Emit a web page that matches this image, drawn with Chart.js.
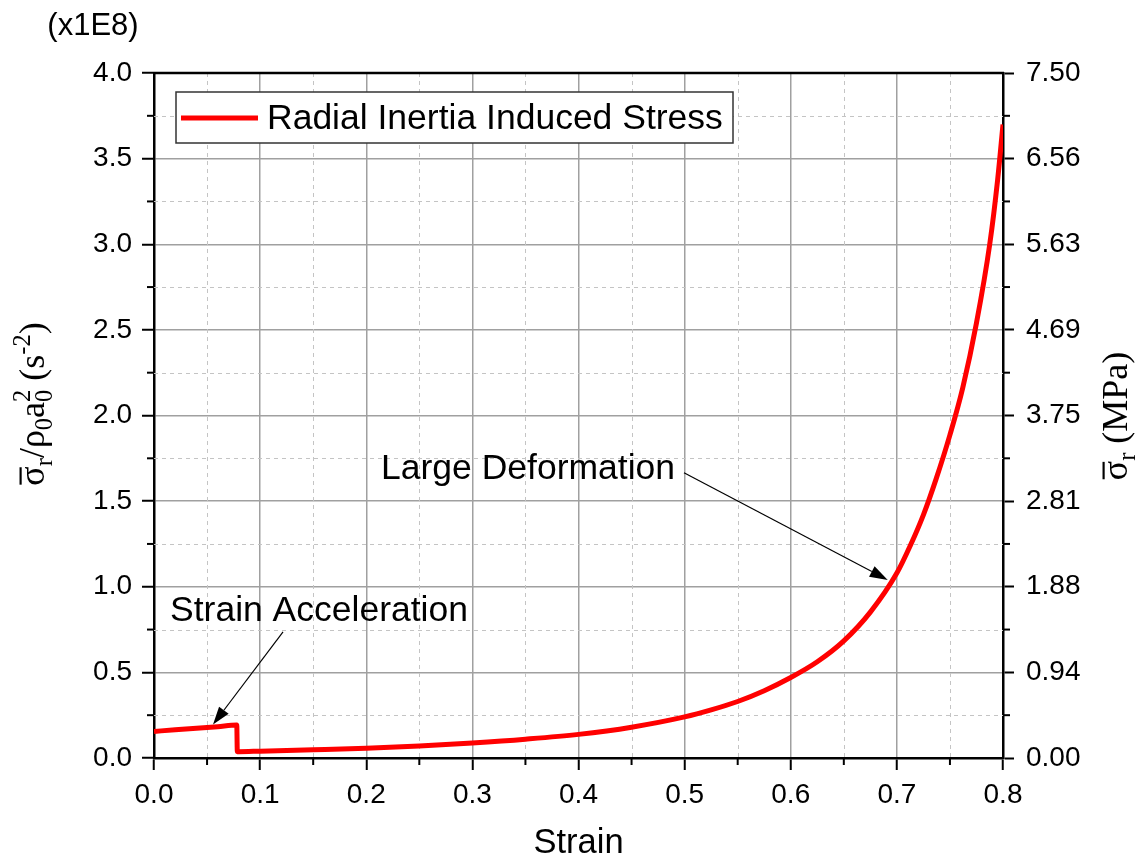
<!DOCTYPE html>
<html>
<head>
<meta charset="utf-8">
<script src="https://cdn.jsdelivr.net/npm/chart.js@4.4.1/dist/chart.umd.min.js"></script>
<style>
  body { margin: 0; background: #fff; }
  #wrap { width: 1141px; height: 867px; }
</style>
</head>
<body>
<div id="wrap"><canvas id="myChart" width="1141" height="867"></canvas></div>
<script>
// strain values (x) and radial inertia stress in units of 1E8 s^-2 (y)
const strain = [0, 0.02, 0.04, 0.06, 0.078, 0.0785, 0.08, 0.1, 0.15, 0.2, 0.25, 0.3, 0.35, 0.4, 0.45,
  0.5, 0.525, 0.55, 0.575, 0.6, 0.625, 0.65, 0.675, 0.7, 0.713, 0.725, 0.737, 0.75, 0.762, 0.775, 0.7875, 0.795, 0.8];
const stress = [0.155, 0.165, 0.174, 0.183, 0.192, 0.037, 0.037, 0.040, 0.048, 0.057, 0.070, 0.088, 0.110, 0.138, 0.180,
  0.240, 0.281, 0.330, 0.393, 0.470, 0.562, 0.684, 0.852, 1.08, 1.245, 1.42, 1.63, 1.887, 2.16, 2.54, 3.0, 3.38, 3.70];

const xTickLabels = ['0.0', '0.1', '0.2', '0.3', '0.4', '0.5', '0.6', '0.7', '0.8'];
const leftTickLabels = ['0.0', '0.5', '1.0', '1.5', '2.0', '2.5', '3.0', '3.5', '4.0'];
const rightTickLabels = ['0.00', '0.94', '1.88', '2.81', '3.75', '4.69', '5.63', '6.56', '7.50'];
const seriesName = 'Radial Inertia Induced Stress';

// annotations, in data coordinates
const notes = [
  { text: 'Strain Acceleration', tx: 0.0151, ty: 0.858, fx: 0.1216, fy: 0.736, px: 0.0556, py: 0.195 },
  { text: 'Large Deformation', tx: 0.2139, ty: 1.688, fx: 0.4994, fy: 1.666, px: 0.6914, py: 1.04 }
];

const SANS = '"Liberation Sans", Arial, sans-serif';
const SERIF = '"Liberation Serif", "Times New Roman", serif';

function drawRich(ctx, segs, size) {
  // segs: {t, mode: 'n'|'sub'|'sup'|'stack', t2, bar}
  const small = size * 0.68;
  const parts = segs.map(s => {
    let w;
    if (s.mode === 'n') { ctx.font = size + 'px ' + SERIF; w = ctx.measureText(s.t).width; }
    else if (s.mode === 'stack') {
      ctx.font = small + 'px ' + SERIF;
      w = Math.max(ctx.measureText(s.t).width, ctx.measureText(s.t2).width);
    } else { ctx.font = small + 'px ' + SERIF; w = ctx.measureText(s.t).width; }
    return { s, w };
  });
  const total = parts.reduce((a, p) => a + p.w, 0);
  let x = -total / 2;
  ctx.textAlign = 'left';
  ctx.textBaseline = 'alphabetic';
  parts.forEach(({ s, w }) => {
    if (s.mode === 'n') {
      ctx.font = size + 'px ' + SERIF;
      ctx.fillText(s.t, x, 0);
      if (s.bar) {
        ctx.fillRect(x + 1, -size * 0.68, w - 2, size * 0.06);
      }
    } else if (s.mode === 'sub') {
      ctx.font = small + 'px ' + SERIF;
      ctx.fillText(s.t, x, size * 0.22);
    } else if (s.mode === 'sup') {
      ctx.font = small + 'px ' + SERIF;
      ctx.fillText(s.t, x, -size * 0.38);
    } else {
      ctx.font = small + 'px ' + SERIF;
      ctx.fillText(s.t, x, size * 0.22);
      ctx.fillText(s.t2, x, -size * 0.38);
    }
    x += w;
  });
}

function arrow(ctx, x0, y0, x1, y1) {
  const ang = Math.atan2(y1 - y0, x1 - x0);
  const L = 18, W = 6;
  const bx = x1 - L * Math.cos(ang), by = y1 - L * Math.sin(ang);
  ctx.beginPath();
  ctx.moveTo(x0, y0);
  ctx.lineTo(bx, by);
  ctx.stroke();
  ctx.beginPath();
  ctx.moveTo(x1, y1);
  ctx.lineTo(bx + W * Math.sin(ang), by - W * Math.cos(ang));
  ctx.lineTo(bx - W * Math.sin(ang), by + W * Math.cos(ang));
  ctx.closePath();
  ctx.fill();
}

const extras = {
  id: 'extras',
  beforeDatasetsDraw(chart) {
    const { ctx, chartArea: a, scales } = chart;
    const xs = scales.x, ys = scales.y;
    ctx.save();
    ctx.strokeStyle = '#c4c4c4';
    ctx.lineWidth = 1;
    ctx.setLineDash([4, 4]);
    for (let i = 0; i < 8; i++) {
      const px = Math.round(xs.getPixelForValue(0.05 + i * 0.1)) + 0.5;
      ctx.beginPath(); ctx.moveTo(px, a.top); ctx.lineTo(px, a.bottom); ctx.stroke();
    }
    for (let i = 0; i < 8; i++) {
      const py = Math.round(ys.getPixelForValue(0.25 + i * 0.5)) + 0.5;
      ctx.beginPath(); ctx.moveTo(a.left, py); ctx.lineTo(a.right, py); ctx.stroke();
    }
    ctx.restore();
  },
  afterDatasetsDraw(chart) {
    const { ctx, chartArea: a, scales } = chart;
    const xs = scales.x, ys = scales.y;
    ctx.save();
    // frame top
    ctx.strokeStyle = '#000';
    ctx.lineWidth = 2.5;
    ctx.beginPath(); ctx.moveTo(a.left - 1, a.top); ctx.lineTo(a.right + 1, a.top); ctx.stroke();
    // minor ticks
    ctx.lineWidth = 2;
    for (let i = 0; i < 8; i++) {
      const px = xs.getPixelForValue(0.05 + i * 0.1);
      ctx.beginPath(); ctx.moveTo(px, a.bottom); ctx.lineTo(px, a.bottom + 7); ctx.stroke();
      const py = ys.getPixelForValue(0.25 + i * 0.5);
      ctx.beginPath(); ctx.moveTo(a.left, py); ctx.lineTo(a.left - 7, py); ctx.stroke();
      ctx.beginPath(); ctx.moveTo(a.right, py); ctx.lineTo(a.right + 7, py); ctx.stroke();
    }
    // legend
    const lx = a.left + 22, ly = a.top + 19;
    ctx.fillStyle = '#fff';
    ctx.fillRect(lx, ly, 557, 51);
    ctx.strokeStyle = '#333';
    ctx.lineWidth = 1.5;
    ctx.strokeRect(lx, ly, 557, 51);
    ctx.strokeStyle = '#ff0000';
    ctx.lineWidth = 5;
    ctx.beginPath(); ctx.moveTo(lx + 5, ly + 26); ctx.lineTo(lx + 82, ly + 26); ctx.stroke();
    ctx.fillStyle = '#000';
    ctx.font = '35.5px ' + SANS;
    ctx.textBaseline = 'middle';
    ctx.textAlign = 'left';
    ctx.fillText(seriesName, lx + 91, ly + 27);
    // annotations
    ctx.strokeStyle = '#000';
    ctx.lineWidth = 1.2;
    notes.forEach(n => {
      ctx.fillText(n.text, xs.getPixelForValue(n.tx), ys.getPixelForValue(n.ty));
      arrow(ctx, xs.getPixelForValue(n.fx), ys.getPixelForValue(n.fy),
        xs.getPixelForValue(n.px), ys.getPixelForValue(n.py));
    });
    // axis titles
    ctx.font = '31px ' + SANS;
    ctx.textAlign = 'center';
    ctx.fillText('(x1E8)', 93, 26);
    ctx.font = '34.5px ' + SANS;
    ctx.fillText('Strain', (a.left + a.right) / 2, 843);

    ctx.save();
    ctx.translate(44, 404);
    ctx.rotate(-Math.PI / 2);
    drawRich(ctx, [
      { t: 'σ', mode: 'n', bar: true }, { t: 'r', mode: 'sub' }, { t: '/ρ', mode: 'n' }, { t: '0', mode: 'sub' },
      { t: 'a', mode: 'n' }, { t: '0', t2: '2', mode: 'stack' }, { t: ' (s', mode: 'n' }, { t: '-2', mode: 'sup' },
      { t: ')', mode: 'n' }
    ], 36);
    ctx.restore();

    ctx.save();
    ctx.translate(1127, 416);
    ctx.rotate(-Math.PI / 2);
    drawRich(ctx, [
      { t: 'σ', mode: 'n', bar: true }, { t: 'r', mode: 'sub' }, { t: ' (MPa)', mode: 'n' }
    ], 36);
    ctx.restore();
    ctx.restore();
  }
};

const ctx = document.getElementById('myChart').getContext('2d');
const myChart = new Chart(ctx, {
  type: 'line',
  data: {
    datasets: [{
      label: seriesName,
      data: strain.map((s, i) => ({ x: s, y: stress[i] })),
      borderColor: '#ff0000',
      borderWidth: 5,
      pointRadius: 0,
      cubicInterpolationMode: 'monotone',
      fill: false
    }]
  },
  options: {
    responsive: false,
    animation: false,
    layout: { padding: { top: 73, left: 0, right: 0, bottom: 0 } },
    plugins: { legend: { display: false }, tooltip: { enabled: false } },
    scales: {
      x: {
        type: 'linear', min: 0, max: 0.8,
        afterFit: s => { s.height = 109; },
        ticks: { stepSize: 0.1, color: '#000', font: { size: 28, family: SANS }, padding: 8,
          maxRotation: 0, callback: (v, i) => xTickLabels[i] },
        grid: { color: '#a0a0a0', lineWidth: 1.5, tickColor: '#000', tickWidth: 2, tickLength: 12 },
        border: { color: '#000', width: 2.5 }
      },
      y: {
        position: 'left', min: 0, max: 4,
        afterFit: s => { s.width = 154; },
        ticks: { stepSize: 0.5, color: '#000', font: { size: 28, family: SANS }, padding: 10,
          callback: (v, i) => leftTickLabels[i] },
        grid: { color: '#a0a0a0', lineWidth: 1.5, tickColor: '#000', tickWidth: 2, tickLength: 12 },
        border: { color: '#000', width: 2.5 }
      },
      y2: {
        position: 'right', min: 0, max: 7.5,
        afterFit: s => { s.width = 138; },
        ticks: { stepSize: 0.9375, color: '#000', font: { size: 28, family: SANS }, padding: 12,
          callback: (v, i) => rightTickLabels[i] },
        grid: { drawOnChartArea: false, tickColor: '#000', tickWidth: 2, tickLength: 11 },
        border: { color: '#000', width: 2.5 }
      }
    }
  },
  plugins: [extras]
});
</script>
</body>
</html>
